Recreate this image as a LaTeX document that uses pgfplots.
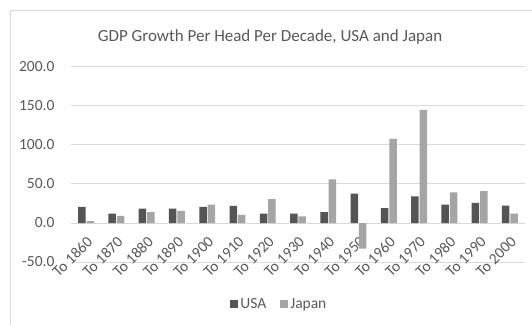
\documentclass[border=0pt]{standalone}
\usepackage{pgfplots}
\pgfplotsset{compat=1.18}
\usepackage{fontspec}
\setmainfont{Carlito}
\definecolor{usa}{HTML}{555555}
\definecolor{jpn}{HTML}{A5A5A5}
\definecolor{txt}{HTML}{595959}
\definecolor{gridc}{HTML}{D9D9D9}
\begin{document}
\begin{tikzpicture}
\useasboundingbox (0pt,0pt) rectangle (532pt,324pt);
\clip (0pt,0pt) rectangle (532pt,324pt);
\fill[white] (0pt,0pt) rectangle (532pt,324pt);
\draw[gridc, line width=1pt] (10pt,-20pt) rectangle (560pt,313pt);
\node[text=txt, font=\fontsize{17}{20}\selectfont] at (270pt,287pt) {GDP Growth Per Head Per Decade, USA and Japan};
\begin{axis}[
  at={(71pt,62pt)}, anchor=south west,
  width=454pt, height=195pt, scale only axis,
  xmin=-0.5, xmax=14.5, ymin=-50, ymax=200,
  axis line style={draw=none},
  major tick length=0pt,
  tick style={draw=none},
  ymajorgrids, xmajorgrids=false, grid style={draw=gridc, line width=1pt},
  ytick={-50,0,50,100,150,200},
  yticklabels={-50.0,0.0,50.0,100.0,150.0,200.0},
  xtick={0.15,1.15,...,14.15},
  xticklabels={To 1860,To 1870,To 1880,To 1890,To 1900,To 1910,To 1920,To 1930,To 1940,To 1950,To 1960,To 1970,To 1980,To 1990,To 2000},
  ticklabel style={text=txt, font=\fontsize{15.5}{17}\selectfont},
  yticklabel style={xshift=-13pt},
  xticklabel shift=-23.5pt,
  xticklabel style={rotate=45, anchor=east, inner sep=1pt},
  legend style={at={(0.459,-0.215)}, anchor=center, draw=none, fill=none, legend columns=2,
    font=\fontsize{15.5}{17}\selectfont, text=txt,
    /tikz/every even column/.append style={column sep=12pt}},
  legend image code/.code={\fill[#1] (0pt,-4pt) rectangle (8pt,4pt);},
  clip=false,
]
\addplot[ybar, bar width=7.5pt, bar shift=-4.2pt, fill=usa, draw=none] coordinates {
(0,20.7) (1,12) (2,18.5) (3,18.5) (4,20.7) (5,22) (6,12) (7,12) (8,13.8) (9,37.5) (10,19) (11,34) (12,23.7) (13,25.8) (14,22.4)};
\addlegendentry{USA}
\addplot[ybar, bar width=7.5pt, bar shift=4.2pt, fill=jpn, draw=none] coordinates {
(0,2.5) (1,9) (2,13.8) (3,15.5) (4,23.7) (5,10.3) (6,30.6) (7,8.6) (8,56) (9,-32.7) (10,107.7) (11,145) (12,39.2) (13,41) (14,12)};
\addlegendentry{Japan}
\end{axis}
\end{tikzpicture}
\end{document}
